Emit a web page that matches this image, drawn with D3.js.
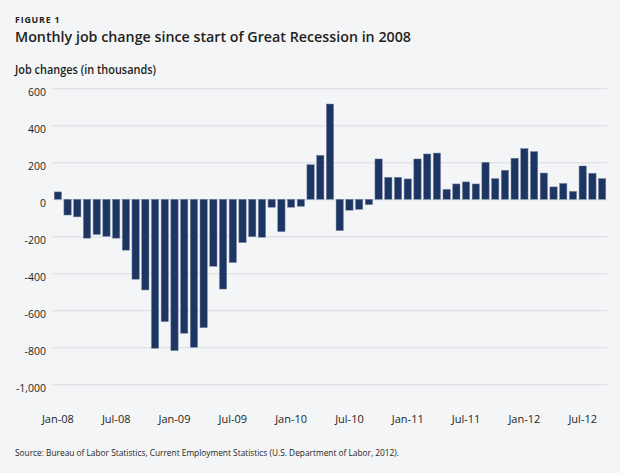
<!DOCTYPE html>
<html>
<head>
<meta charset="utf-8">
<script src="https://cdn.jsdelivr.net/npm/d3@7"></script>
<style>
  html, body { margin: 0; padding: 0; background: #f4f5f7; }
  svg { display: block; }
  text { font-family: "Open Sans", "Noto Sans", sans-serif; fill: #231f20; }
</style>
</head>
<body>
<svg id="chart" width="620" height="473"></svg>
<script>
// ---- Data ----
const categories = [
  "Jan-08","Feb-08","Mar-08","Apr-08","May-08","Jun-08","Jul-08","Aug-08","Sep-08","Oct-08","Nov-08","Dec-08",
  "Jan-09","Feb-09","Mar-09","Apr-09","May-09","Jun-09","Jul-09","Aug-09","Sep-09","Oct-09","Nov-09","Dec-09",
  "Jan-10","Feb-10","Mar-10","Apr-10","May-10","Jun-10","Jul-10","Aug-10","Sep-10","Oct-10","Nov-10","Dec-10",
  "Jan-11","Feb-11","Mar-11","Apr-11","May-11","Jun-11","Jul-11","Aug-11","Sep-11","Oct-11","Nov-11","Dec-11",
  "Jan-12","Feb-12","Mar-12","Apr-12","May-12","Jun-12","Jul-12","Aug-12","Sep-12"
];
const jobChanges = [
  40, -85, -95, -210, -190, -200, -210, -275, -432, -490, -805, -661,
  -818, -724, -800, -694, -362, -485, -342, -234, -202, -205, -43, -175,
  -43, -38, 187, 238, 515, -169, -59, -54, -29, 218, 119, 119,
  110, 218, 245, 250, 54, 83, 94, 83, 200, 112, 157, 222,
  274, 258, 142, 67, 86, 43, 180, 141, 112
];
const xTickLabels = ["Jan-08","Jul-08","Jan-09","Jul-09","Jan-10","Jul-10","Jan-11","Jul-11","Jan-12","Jul-12"];
const yTickValues = [600, 400, 200, 0, -200, -400, -600, -800, -1000];

const figureLabel = "FIGURE 1";
const titleText = "Monthly job change since start of Great Recession in 2008";
const yAxisTitle = "Job changes (in thousands)";
const sourceText = "Source: Bureau of Labor Statistics, Current Employment Statistics (U.S. Department of Labor, 2012).";

// ---- Layout ----
const svg = d3.select("#chart");
const plotLeft = 53, plotRight = 607, plotTop = 88.3, plotBottom = 384.3;

const x = d3.scaleBand()
  .domain(categories)
  .range([plotLeft, plotRight])
  .paddingInner(0.25)
  .paddingOuter(0.125);

const y = d3.scaleLinear()
  .domain([-1000, 600])
  .range([plotBottom, plotTop]);

const fmt = d3.formatLocale({decimal: ".", thousands: ",", grouping: [3], currency: ["$", ""], minus: "-"}).format(",");

// Header texts
svg.append("text")
  .attr("x", 15).attr("y", 23.3)
  .attr("font-size", 9.5).attr("font-weight", 700)
  .attr("letter-spacing", 0.9)
  .attr("fill", "#333")
  .attr("textLength", 45.5).attr("lengthAdjust", "spacingAndGlyphs")
  .text(figureLabel);

svg.append("text")
  .attr("x", 15).attr("y", 41.7)
  .attr("font-size", 14).attr("font-weight", 600)
  .attr("textLength", 396).attr("lengthAdjust", "spacingAndGlyphs")
  .text(titleText);

svg.append("text")
  .attr("x", 15).attr("y", 74.3)
  .attr("font-size", 11.8).attr("font-weight", 600)
  .attr("textLength", 141).attr("lengthAdjust", "spacingAndGlyphs")
  .text(yAxisTitle);

// Y axis with gridlines
const yAxis = svg.append("g")
  .attr("transform", `translate(${plotLeft},0)`)
  .call(d3.axisLeft(y)
    .tickValues(yTickValues)
    .tickSize(-(plotRight - plotLeft))
    .tickPadding(7)
    .tickFormat(fmt));
yAxis.select(".domain").remove();
yAxis.selectAll(".tick line").attr("stroke", "#d9dadd").attr("stroke-width", 1);
yAxis.selectAll(".tick text")
  .attr("dy", null).attr("y", 7.3)
  .attr("font-size", 10.5)
  .attr("font-family", "'Open Sans', 'Noto Sans', sans-serif")
  .attr("fill", "#231f20");

// Bars
svg.append("g").selectAll("rect")
  .data(jobChanges)
  .join("rect")
  .attr("x", (d, i) => x(categories[i]))
  .attr("width", x.bandwidth())
  .attr("y", d => y(Math.max(0, d)))
  .attr("height", d => Math.abs(y(d) - y(0)))
  .attr("fill", "#1c3562")
  .attr("stroke", "#7685a2")
  .attr("stroke-width", 0.5);

// X axis labels
const xAxis = svg.append("g")
  .attr("transform", `translate(0,${plotBottom})`)
  .call(d3.axisBottom(x).tickValues(xTickLabels).tickSize(0));
xAxis.select(".domain").remove();
xAxis.selectAll(".tick text")
  .attr("dy", null).attr("y", 38.4)
  .attr("font-size", 11)
  .attr("font-family", "'Open Sans', 'Noto Sans', sans-serif")
  .attr("fill", "#231f20");

// Source
svg.append("text")
  .attr("x", 15).attr("y", 455.7)
  .attr("font-size", 9.3)
  .attr("textLength", 384).attr("lengthAdjust", "spacingAndGlyphs")
  .text(sourceText);
</script>
</body>
</html>
